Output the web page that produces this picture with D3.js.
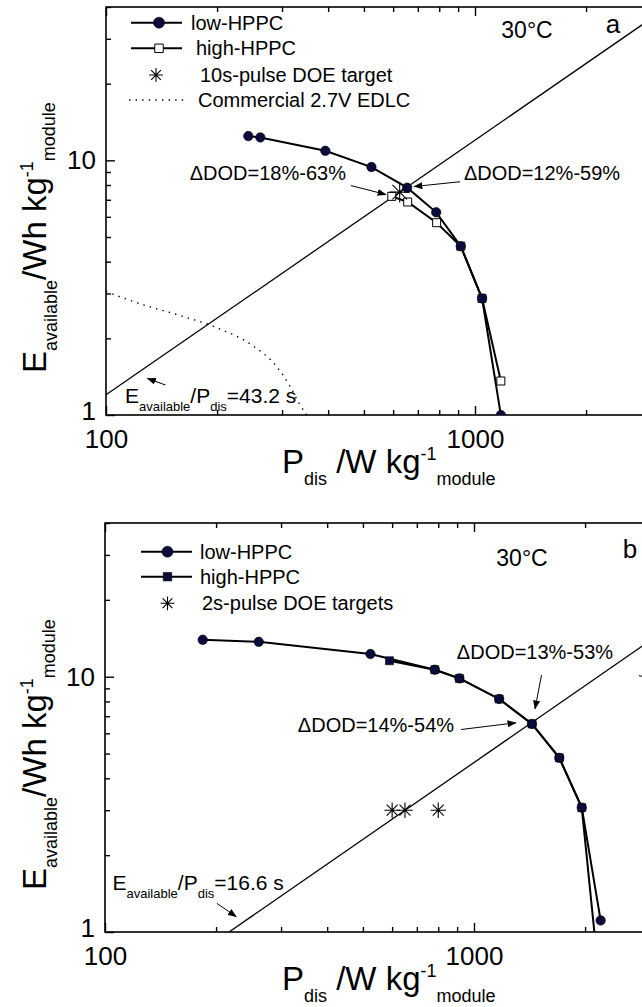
<!DOCTYPE html>
<html>
<head>
<meta charset="utf-8">
<script src="https://cdn.jsdelivr.net/npm/d3@7"></script>
<style>
  body { margin: 0; background: #fff; }
  svg { display: block; }
</style>
</head>
<body>
<svg id="chart" width="642" height="1007"></svg>
<script>
// ---------- Panel a: 10 s pulse ----------
const aLowP  = [243, 262, 393, 524, 655, 785, 915, 1045, 1175];
const aLowE  = [12.45, 12.3, 10.9, 9.41, 7.81, 6.25, 4.6, 2.87, 1.0];
const aHighP = [595, 657, 787, 915, 1045, 1175];
const aHighE = [7.22, 6.86, 5.69, 4.6, 2.87, 1.36];
const aTargetP = [625];
const aTargetE = [7.5];
const edlcP = [100, 125, 160, 200, 250, 290, 315, 335, 350];
const edlcE = [3.05, 2.72, 2.45, 2.2, 1.87, 1.55, 1.3, 1.1, 1.0];
const aRatioSeconds = 43.2;

// ---------- Panel b: 2 s pulse ----------
const bLowP  = [184, 261, 524, 783, 913, 1170, 1436, 1703, 1959, 2204];
const bLowE  = [13.95, 13.7, 12.27, 10.65, 9.85, 8.18, 6.53, 4.81, 3.07, 1.11];
const bHighP = [590, 783, 913, 1170, 1436, 1703, 1959, 2210];
const bHighE = [11.55, 10.65, 9.85, 8.18, 6.53, 4.81, 3.07, 0.55];
const bTargetP = [600, 650, 800];
const bTargetE = [3, 3, 3];
const bRatioSeconds = 16.6;

// ---------- Axes ----------
const xDomain = [100, 4000];
const yDomain = [1, 40];
const xMajorTicks = [100, 1000];
const xMinorTicks = [200, 300, 400, 500, 600, 700, 800, 900, 2000, 3000, 4000];
const yMajorTicks = [1, 10];
const yMinorTicks = [2, 3, 4, 5, 6, 7, 8, 9, 20, 30, 40];

const FONT = '"Liberation Sans", Arial, Helvetica, sans-serif';
const NAVY = "#0b0b3d";
const PX_PER_DECADE = 369;

const svg = d3.select("#chart");

// arrowhead for annotation pointers
svg.append("defs").append("marker")
  .attr("id", "arrowhead")
  .attr("markerUnits", "userSpaceOnUse")
  .attr("markerWidth", 9).attr("markerHeight", 7)
  .attr("refX", 8.5).attr("refY", 3.5)
  .attr("orient", "auto")
  .append("path").attr("d", "M0,0 L9,3.5 L0,7 Z").attr("fill", "#000");

// eight-armed asterisk symbol
const symbolAsterisk = {
  draw(ctx, size) {
    const r = Math.sqrt(size) / 2;
    for (let k = 0; k < 4; k++) {
      const a = k * Math.PI / 4;
      ctx.moveTo(r * Math.cos(a), r * Math.sin(a));
      ctx.lineTo(-r * Math.cos(a), -r * Math.sin(a));
    }
  }
};

const circleSym = d3.symbol().type(d3.symbolCircle).size(70);
const squareSym = d3.symbol().type(d3.symbolSquare).size(64);

function richText(sel, parts) {
  // parts: [text, fontSize, dy]
  parts.forEach(([t, fs, dy]) => {
    sel.append("tspan").text(t).attr("font-size", fs).attr("dy", dy);
  });
  return sel;
}

function drawPanel(p) {
  const g = svg.append("g");
  const x = d3.scaleLog().domain(xDomain)
    .range([p.left, p.left + PX_PER_DECADE * Math.log10(xDomain[1] / xDomain[0])]);
  const y = d3.scaleLog().domain(yDomain).range([p.bottom, p.top]);
  const [x0, x1] = x.range();

  const clipId = "clip-" + p.id;
  g.append("clipPath").attr("id", clipId)
    .append("rect").attr("x", x0).attr("y", p.top)
    .attr("width", x1 - x0).attr("height", p.bottom - p.top);

  // axes with inward ticks
  const axisStyle = s => {
    s.select(".domain").remove();
    s.selectAll(".tick line").attr("stroke", "#000").attr("stroke-width", 1.4);
    s.selectAll("text").attr("font-family", FONT).attr("font-size", 26).attr("fill", "#000");
  };
  g.append("g").attr("transform", `translate(0,${p.bottom})`)
    .call(d3.axisBottom(x).tickValues(xMinorTicks).tickSize(-5).tickFormat(""))
    .call(axisStyle);
  g.append("g").attr("transform", `translate(0,${p.bottom})`)
    .call(d3.axisBottom(x).tickValues(xMajorTicks).tickSize(-9).tickPadding(15).tickFormat(d3.format("d")))
    .call(axisStyle);
  g.append("g").attr("transform", `translate(0,${p.top})`)
    .call(d3.axisTop(x).tickValues(xMinorTicks).tickSize(-5).tickFormat(""))
    .call(axisStyle);
  g.append("g").attr("transform", `translate(0,${p.top})`)
    .call(d3.axisTop(x).tickValues(xMajorTicks).tickSize(-9).tickFormat(""))
    .call(axisStyle);
  g.append("g").attr("transform", `translate(${x0},0)`)
    .call(d3.axisLeft(y).tickValues(yMinorTicks).tickSize(-5).tickFormat(""))
    .call(axisStyle);
  g.append("g").attr("transform", `translate(${x0},0)`)
    .call(d3.axisLeft(y).tickValues(yMajorTicks).tickSize(-9).tickPadding(10).tickFormat(d3.format("d")))
    .call(axisStyle)
    .call(s => s.selectAll(".tick text").filter(d => d === yDomain[0]).attr("y", -4));

  // frame
  g.append("rect").attr("x", x0).attr("y", p.top)
    .attr("width", x1 - x0).attr("height", p.bottom - p.top)
    .attr("fill", "none").attr("stroke", "#000").attr("stroke-width", 1.6);

  const plot = g.append("g").attr("clip-path", `url(#${clipId})`);
  const line = d3.line().x(d => x(d[0])).y(d => y(d[1]));

  // constant E/P line
  const ratioP = xDomain;
  const ratioE = ratioP.map(v => v * p.ratio / 3600);
  plot.append("path").datum(d3.zip(ratioP, ratioE)).attr("d", line)
    .attr("fill", "none").attr("stroke", "#000").attr("stroke-width", 1.3);

  if (p.edlcP) {
    plot.append("path").datum(d3.zip(p.edlcP, p.edlcE))
      .attr("d", d3.line().x(d => x(d[0])).y(d => y(d[1])).curve(d3.curveMonotoneX))
      .attr("fill", "none").attr("stroke", "#000").attr("stroke-width", 1.4)
      .attr("stroke-dasharray", "1.4,5.2");
  }

  const low = d3.zip(p.lowP, p.lowE);
  const high = d3.zip(p.highP, p.highE);
  plot.append("path").datum(low).attr("d", line)
    .attr("fill", "none").attr("stroke", "#000").attr("stroke-width", 2);
  plot.append("path").datum(high).attr("d", line)
    .attr("fill", "none").attr("stroke", "#000").attr("stroke-width", 2);

  const drawCircles = () => plot.append("g").selectAll("path").data(low).join("path")
    .attr("transform", d => `translate(${x(d[0])},${y(d[1])})`)
    .attr("d", circleSym).attr("fill", NAVY).attr("stroke", "#000").attr("stroke-width", 0.6);
  const drawSquares = () => plot.append("g").selectAll("path").data(high).join("path")
    .attr("transform", d => `translate(${x(d[0])},${y(d[1])})`)
    .attr("d", squareSym)
    .attr("fill", p.openSquares ? "#fff" : NAVY)
    .attr("stroke", "#000").attr("stroke-width", p.openSquares ? 1 : 0.6);
  if (p.squaresOnTop) { drawCircles(); drawSquares(); }
  else { drawSquares(); drawCircles(); }

  plot.append("g").selectAll("path").data(d3.zip(p.targetP, p.targetE)).join("path")
    .attr("transform", d => `translate(${x(d[0])},${y(d[1])})`)
    .attr("d", d3.symbol().type(symbolAsterisk).size(p.starSize))
    .attr("fill", "none").attr("stroke", "#000").attr("stroke-width", 1.1);

  // annotations
  p.notes.forEach(n => {
    if (n.parts) {
      const t = g.append("text")
        .attr("x", x(n.at[0])).attr("y", y(n.at[1]))
        .attr("text-anchor", n.anchor || "start")
        .attr("font-family", FONT).attr("fill", "#000");
      richText(t, n.parts);
    }
    g.append("line")
      .attr("x1", x(n.from[0])).attr("y1", y(n.from[1]))
      .attr("x2", x(n.to[0])).attr("y2", y(n.to[1]))
      .attr("stroke", "#000").attr("stroke-width", 1)
      .attr("marker-end", n.parts ? "url(#arrowhead)" : null);
  });

  // legend
  p.legend.forEach(item => {
    const ly = p.top + item.dy;
    const lg = g.append("g");
    if (item.kind === "circle" || item.kind === "square") {
      lg.append("line").attr("x1", item.x1).attr("x2", item.x2)
        .attr("y1", ly).attr("y2", ly).attr("stroke", "#000").attr("stroke-width", 2);
      lg.append("path").attr("transform", `translate(${item.mx},${ly})`)
        .attr("d", item.kind === "circle" ? d3.symbol().type(d3.symbolCircle).size(95)
                                          : d3.symbol().type(d3.symbolSquare).size(72))
        .attr("fill", item.open ? "#fff" : NAVY)
        .attr("stroke", "#000").attr("stroke-width", item.open ? 1 : 0.6);
    } else if (item.kind === "star") {
      lg.append("path").attr("transform", `translate(${item.mx},${ly})`)
        .attr("d", d3.symbol().type(symbolAsterisk).size(190))
        .attr("fill", "none").attr("stroke", "#000").attr("stroke-width", 1.1);
    } else if (item.kind === "dot") {
      lg.append("line").attr("x1", item.x1).attr("x2", item.x2)
        .attr("y1", ly).attr("y2", ly).attr("stroke", "#000").attr("stroke-width", 1.4)
        .attr("stroke-dasharray", "1.4,5.2");
    }
    lg.append("text").attr("x", item.tx).attr("y", ly).attr("dy", "0.35em")
      .attr("font-family", FONT).attr("font-size", 20).attr("fill", "#000")
      .text(item.label);
  });

  // temperature and panel letter
  g.append("text").attr("x", p.tempX).attr("y", p.top + p.tempDy)
    .attr("text-anchor", "middle").attr("font-family", FONT).attr("font-size", 23)
    .text("30°C");
  g.append("text").attr("x", p.letterX).attr("y", p.top + p.letterDy)
    .attr("text-anchor", "middle").attr("font-family", FONT).attr("font-size", 26)
    .text(p.id);

  // axis titles
  const xt = g.append("text").attr("x", 282).attr("y", p.bottom + 58)
    .attr("font-family", FONT).attr("fill", "#000");
  richText(xt, [["P", 33, 0], ["dis", 18, 12], [" /W kg", 33, -12], ["-1", 18, -13], ["module", 18, 25]]);

  const yt = g.append("text")
    .attr("transform", `translate(46,${p.bottom - 42}) rotate(-90)`)
    .attr("font-family", FONT).attr("fill", "#000");
  richText(yt, [["E", 33, 0], ["available", 18, 11], ["/Wh kg", 33, -11], ["-1", 18, -13], ["module", 18, 22]]);
}

drawPanel({
  id: "a", left: 106, top: 7, bottom: 415,
  lowP: aLowP, lowE: aLowE, highP: aHighP, highE: aHighE,
  openSquares: true, squaresOnTop: false,
  targetP: aTargetP, targetE: aTargetE, starSize: 420,
  edlcP: edlcP, edlcE: edlcE, ratio: aRatioSeconds,
  tempX: 527, tempDy: 31, letterX: 613, letterDy: 26,
  notes: [
    { at: [447, 8.37], anchor: "end", parts: [["\u0394DOD=18%-63%", 20, 0]],
      from: [461, 7.96], to: [574, 7.34] },
    { at: [933, 8.37], parts: [["\u0394DOD=12%-59%", 20, 0]],
      from: [911, 8.24], to: [683, 7.89] },
    { at: [112.6, 1.115],
      parts: [["E", 21, 0], ["available", 13, 8], ["/P", 21, -8], ["dis", 13, 8], ["=43.2 s", 21, -8]],
      from: [145, 1.311], to: [129.4, 1.393] }
  ],
  legend: [
    { kind: "circle", dy: 15.7, x1: 131, x2: 182, mx: 159, tx: 191, label: "low-HPPC" },
    { kind: "square", open: true, dy: 41.3, x1: 131, x2: 182, mx: 159, tx: 196, label: "high-HPPC" },
    { kind: "star", dy: 68, mx: 156, tx: 200, label: "10s-pulse DOE target" },
    { kind: "dot", dy: 93, x1: 129, x2: 184, tx: 198, label: "Commercial 2.7V EDLC" }
  ]
});

drawPanel({
  id: "b", left: 105, top: 523, bottom: 932,
  lowP: bLowP, lowE: bLowE, highP: bHighP, highE: bHighE,
  openSquares: false, squaresOnTop: true,
  targetP: bTargetP, targetE: bTargetE, starSize: 240,
  ratio: bRatioSeconds,
  tempX: 522, tempDy: 43, letterX: 630, letterDy: 35,
  notes: [
    { at: [1463, 11.73], anchor: "middle", parts: [["\u0394DOD=13%-53%", 20, 0]],
      from: [1524, 10.15], to: [1463, 7.47] },
    { at: [883, 6.07], anchor: "end", parts: [["\u0394DOD=14%-54%", 20, 0]],
      from: [922, 6.21], to: [1300, 6.6] },
    { at: [104.8, 1.46],
      parts: [["E", 21, 0], ["available", 13, 8], ["/P", 21, -8], ["dis", 13, 8], ["=16.6 s", 21, -8]],
      from: [201, 1.295], to: [227, 1.148] },
    { from: [2800, 10.1], to: [2906, 9.97] }
  ],
  legend: [
    { kind: "circle", dy: 28.7, x1: 141, x2: 192, mx: 167.5, tx: 200, label: "low-HPPC" },
    { kind: "square", dy: 53.7, x1: 141, x2: 192, mx: 167.5, tx: 200, label: "high-HPPC" },
    { kind: "star", dy: 80.3, mx: 167.5, tx: 202, label: "2s-pulse DOE targets" }
  ]
});
</script>
</body>
</html>
